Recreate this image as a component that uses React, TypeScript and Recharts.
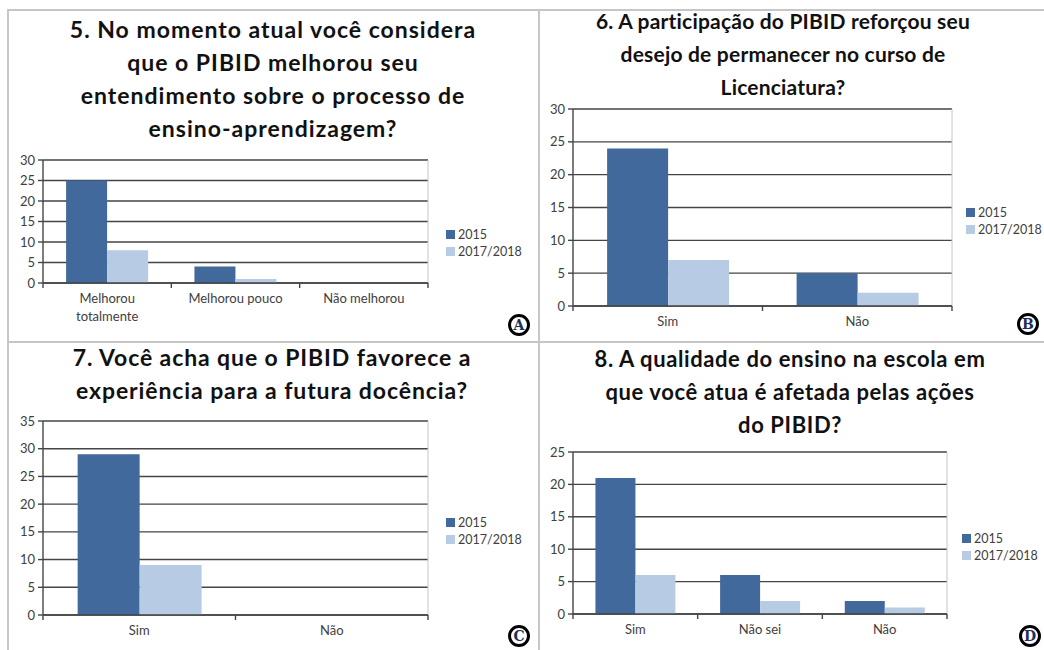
import { Bar, BarChart, CartesianGrid, Legend, Text, XAxis, YAxis } from 'recharts';

const seriesNames = ['2015', '2017/2018'];
const seriesColors = ['#41699c', '#b7cce4'];

const titleA = ['5. No momento atual você considera', 'que o PIBID melhorou seu', 'entendimento sobre o processo de', 'ensino-aprendizagem?'];
const catsA = ['Melhorou totalmente', 'Melhorou pouco', 'Não melhorou'];
const a2015 = [25, 4, 0];
const a2017 = [8, 1, 0];
const ticksA = [0, 5, 10, 15, 20, 25, 30];

const titleB = ['6. A participação do PIBID reforçou seu', 'desejo de permanecer no curso de', 'Licenciatura?'];
const catsB = ['Sim', 'Não'];
const b2015 = [24, 5];
const b2017 = [7, 2];
const ticksB = [0, 5, 10, 15, 20, 25, 30];

const titleC = ['7. Você acha que o PIBID favorece a', 'experiência para a futura docência?'];
const catsC = ['Sim', 'Não'];
const c2015 = [29, 0];
const c2017 = [9, 0];
const ticksC = [0, 5, 10, 15, 20, 25, 30, 35];

const titleD = ['8. A qualidade do ensino na escola em', 'que você atua é afetada pelas ações', 'do PIBID?'];
const catsD = ['Sim', 'Não sei', 'Não'];
const d2015 = [21, 6, 2];
const d2017 = [6, 2, 1];
const ticksD = [0, 5, 10, 15, 20, 25];

const FONT = 'Lato, "Open Sans", sans-serif';
const INK = '#404040';
const GRID = '#454545';
const FRAME = '#c6c6c6';

type Box = { x0: number; x1: number; y0: number; y1: number };

function CatTick(props: any) {
  const { x, y, payload, index, bw, n } = props;
  const left = x - bw / 2;
  return (
    <g>
      <line x1={left} x2={left} y1={y} y2={y + 5} stroke={GRID} strokeWidth={1.4} />
      {index === n - 1 && <line x1={x + bw / 2} x2={x + bw / 2} y1={y} y2={y + 5} stroke={GRID} strokeWidth={1.4} />}
      <Text x={x} y={y + 11} width={bw - 20} textAnchor="middle" verticalAnchor="start" lineHeight="1.4em" fontSize={13} fill={INK} fontFamily={FONT}>
        {payload.value}
      </Text>
    </g>
  );
}

function LegendBox(props: any) {
  return (
    <div style={{ fontFamily: FONT, fontSize: 12.5, color: INK, lineHeight: '17px' }}>
      {(props.payload || []).map((p: any) => (
        <div key={p.value} style={{ display: 'flex', alignItems: 'center', height: 17, whiteSpace: 'nowrap' }}>
          <span style={{ display: 'inline-block', width: 9, height: 9, background: p.color, marginRight: 3 }} />
          {p.value}
        </div>
      ))}
    </div>
  );
}

function Panel({ cats, s1, s2, ticks, box, legendX, legendY }: { cats: string[]; s1: number[]; s2: number[]; ticks: number[]; box: Box; legendX: number; legendY: number }) {
  const rows = cats.map((cat, i) => ({ cat, [seriesNames[0]]: s1[i], [seriesNames[1]]: s2[i] }));
  const yw = 50;
  const top = 10;
  const right = 130;
  const xh = 45;
  const left = box.x0 - yw;
  const chartTop = box.y0 - top;
  const width = box.x1 - box.x0 + yw + right;
  const height = box.y1 - box.y0 + top + xh;
  const bw = (box.x1 - box.x0) / cats.length;
  return (
    <div style={{ position: 'absolute', left, top: chartTop }}>
      <BarChart width={width} height={height} data={rows} margin={{ top, right, left: 0, bottom: 0 }} barCategoryGap="18%" barGap={0}>
        <CartesianGrid vertical={false} stroke={GRID} strokeWidth={1.4} />
        <CartesianGrid horizontal={false} stroke={FRAME} strokeWidth={1} verticalCoordinatesGenerator={({ offset }: any) => [offset.left + offset.width]} />
        <XAxis dataKey="cat" interval={0} height={xh} tickLine={false} tickSize={0} tickMargin={0} axisLine={{ stroke: GRID, strokeWidth: 1.4 }} tick={(p: any) => <CatTick {...p} bw={bw} n={cats.length} />} />
        <YAxis width={yw} domain={[0, ticks[ticks.length - 1]]} ticks={ticks} interval={0} tickSize={5} tickMargin={3} axisLine={{ stroke: GRID, strokeWidth: 1.4 }} tickLine={{ stroke: GRID, strokeWidth: 1.4 }} tick={{ fontSize: 13, fill: INK, fontFamily: FONT }} />
        <Legend layout="vertical" align="center" verticalAlign="middle" wrapperStyle={{ left: legendX - left, top: legendY - chartTop - 8 }} content={(p: any) => <LegendBox {...p} />} />
        {seriesNames.map((s, i) => (
          <Bar key={s} dataKey={s} fill={seriesColors[i]} isAnimationActive={false} />
        ))}
      </BarChart>
    </div>
  );
}

function Title({ lines, cx, y, size, spacing }: { lines: string[]; cx: number; y: number; size: number; spacing: number }) {
  return (
    <div style={{ position: 'absolute', left: cx - 260, width: 520, top: y - 16.5, textAlign: 'center', fontFamily: FONT, fontWeight: 700, fontSize: size, letterSpacing: spacing, lineHeight: '33px', color: '#111' }}>
      {lines.map(l => <div key={l}>{l}</div>)}
    </div>
  );
}

function Mark({ letter, cx, cy }: { letter: string; cx: number; cy: number }) {
  return (
    <div style={{ position: 'absolute', left: cx - 11, top: cy - 11, width: 16, height: 16, border: '3px solid #000', borderRadius: '50%', display: 'flex', alignItems: 'center', justifyContent: 'center', fontFamily: '"DejaVu Serif", serif', fontWeight: 700, fontSize: 14, color: '#1d2f5a', lineHeight: 1 }}>
      {letter}
    </div>
  );
}

export default function App() {
  return (
    <div style={{ position: 'absolute', left: 0, top: 0, width: 1044, height: 650, background: '#fff', overflow: 'hidden' }}>
      <div style={{ position: 'absolute', left: 8, top: 9, width: 1036, height: 2, background: FRAME }} />
      <div style={{ position: 'absolute', left: 7, top: 9, width: 2, height: 641, background: FRAME }} />
      <div style={{ position: 'absolute', left: 538, top: 9, width: 2, height: 641, background: FRAME }} />
      <div style={{ position: 'absolute', left: 8, top: 341, width: 1036, height: 2, background: FRAME }} />

      <Title lines={titleA} cx={273} y={29} size={23} spacing={1} />
      <Panel cats={catsA} s1={a2015} s2={a2017} ticks={ticksA} box={{ x0: 43, x1: 428, y0: 160, y1: 283 }} legendX={446} legendY={234} />
      <Mark letter="A" cx={519} cy={325} />

      <Title lines={titleB} cx={783} y={20} size={21} spacing={0.2} />
      <Panel cats={catsB} s1={b2015} s2={b2017} ticks={ticksB} box={{ x0: 573, x1: 952, y0: 109, y1: 306 }} legendX={966} legendY={212} />
      <Mark letter="B" cx={1028} cy={324} />

      <Title lines={titleC} cx={272} y={357} size={23} spacing={0.9} />
      <Panel cats={catsC} s1={c2015} s2={c2017} ticks={ticksC} box={{ x0: 43, x1: 428, y0: 421, y1: 615 }} legendX={446} legendY={522} />
      <Mark letter="C" cx={519} cy={636} />

      <Title lines={titleD} cx={790} y={358} size={22} spacing={0.6} />
      <Panel cats={catsD} s1={d2015} s2={d2017} ticks={ticksD} box={{ x0: 573, x1: 947, y0: 452, y1: 614 }} legendX={962} legendY={538} />
      <Mark letter="D" cx={1030} cy={636} />
    </div>
  );
}
